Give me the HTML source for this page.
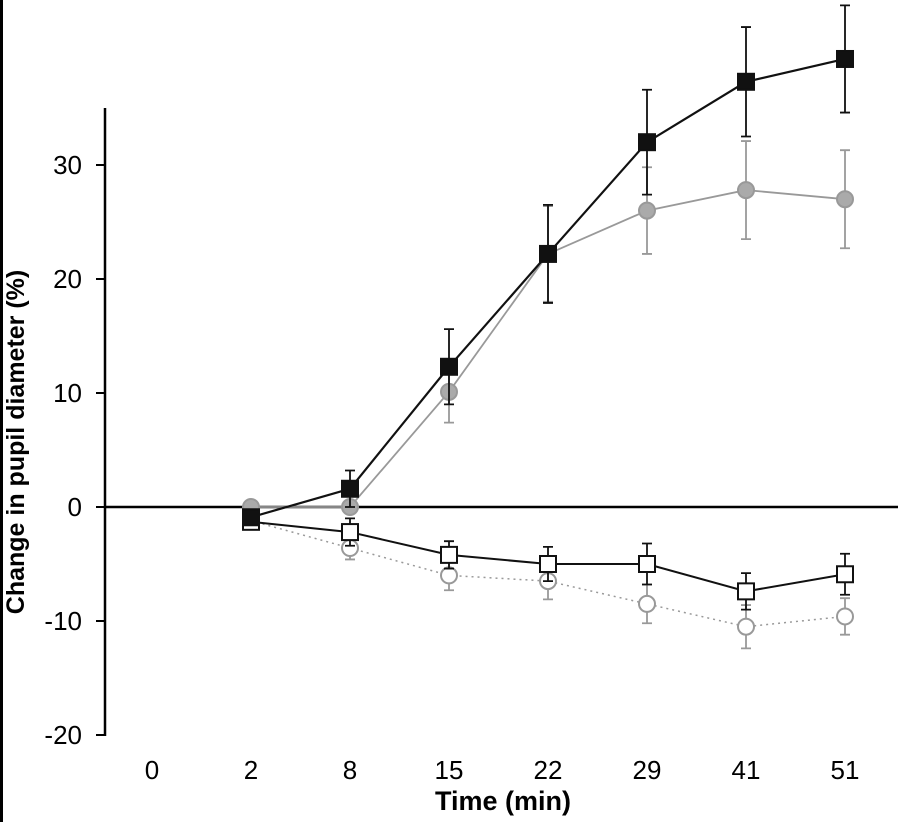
<!DOCTYPE html>
<html><head><meta charset="utf-8"><style>
body{margin:0;background:#fff;}
svg{display:block;font-family:"Liberation Sans",Arial,sans-serif;}
</style></head><body>
<svg id="chart" width="902" height="822">
<rect x="0" y="0" width="3" height="822" fill="#000"/>
<g id="axes"></g>
<g id="series"></g>
<text x="503" y="810" text-anchor="middle" font-size="27" font-weight="bold">Time (min)</text>
<text transform="translate(24,442) rotate(-90)" text-anchor="middle" font-size="25" font-weight="bold">Change in pupil diameter (%)</text>
</svg>
<script>
const categories=["0","2","8","15","22","29","41","51"];
const yTicks=[30,20,10,0,-10,-20];
const filledSq=[null,-0.9,1.6,12.3,22.2,32,37.3,39.3];
const filledSqErr=[null,0.5,1.6,3.3,4.3,4.6,4.8,4.7];
const grayCirc=[null,0,0,10.1,22.2,26,27.8,27];
const grayCircErr=[null,0.4,0.5,2.7,4.2,3.8,4.3,4.3];
const openSq=[null,-1.3,-2.2,-4.2,-5,-5,-7.4,-5.9];
const openSqErr=[null,0.5,1.2,1.2,1.5,1.8,1.6,1.8];
const openCirc=[null,-1.2,-3.6,-6,-6.5,-8.5,-10.5,-9.6];
const openCircErr=[null,0.5,1.0,1.3,1.6,1.7,1.9,1.6];

const NS="http://www.w3.org/2000/svg";
const xS=i=>152+i*99;
const yS=v=>507-11.4*v;
function mk(tag,attrs,parent){const e=document.createElementNS(NS,tag);for(const k in attrs)e.setAttribute(k,attrs[k]);parent.appendChild(e);return e;}
const axes=document.getElementById('axes'),ser=document.getElementById('series');
let e=mk('line',{x1:105,y1:108,x2:105,y2:736,stroke:'#000','stroke-width':2.5},axes);


e=mk('line',{x1:105,y1:yS(0),x2:898,y2:yS(0),stroke:'#000','stroke-width':2.5},axes);


yTicks.forEach(t=>{
 let l=mk('line',{x1:96,y1:yS(t),x2:105,y2:yS(t),stroke:'#000','stroke-width':2},axes);
 
 
 let tx=mk('text',{x:82,y:yS(t)+9,'text-anchor':'end','font-size':26},axes);tx.textContent=t;
 
 
});
categories.forEach((c,i)=>{
 let tx=mk('text',{x:xS(i),y:779,'text-anchor':'middle','font-size':26},axes);tx.textContent=c;
 
 
});
function series(vals,errs,name,color,lw,dash,marker,fill){
 const g=mk('g',{},ser);
 
 
 let pts=[];vals.forEach((v,i)=>{if(v!==null)pts.push(xS(i)+','+yS(v));});
 const p=mk('polyline',{points:pts.join(' '),fill:'none',stroke:color,'stroke-width':lw,'stroke-dasharray':dash},g);
 
 
 vals.forEach((v,i)=>{if(v===null)return;const x=xS(i),y=yS(v),er=errs[i];
  const b=mk('path',{d:`M${x},${yS(v+er)}V${yS(v-er)}M${x-5},${yS(v+er)}H${x+5}M${x-5},${yS(v-er)}H${x+5}`,stroke:color,'stroke-width':1.8,fill:'none'},g);
  
  
  let m;
  if(marker==='sq')m=mk('rect',{x:x-8,y:y-8,width:16,height:16,fill:fill,stroke:color,'stroke-width':2},g);
  else m=mk('circle',{cx:x,cy:y,r:8,fill:fill,stroke:color,'stroke-width':2},g);
  
  
 });
}
series(openCirc,openCircErr,'open-circle-series','#999',1.5,'2 4','c','#fff');
series(openSq,openSqErr,'open-square-series','#111',2,'','sq','#fff');
series(grayCirc,grayCircErr,'gray-circle-series','#999',1.8,'','c','#aaa');
series(filledSq,filledSqErr,'filled-square-series','#111',2.2,'','sq','#111');
</script>
</body></html>
